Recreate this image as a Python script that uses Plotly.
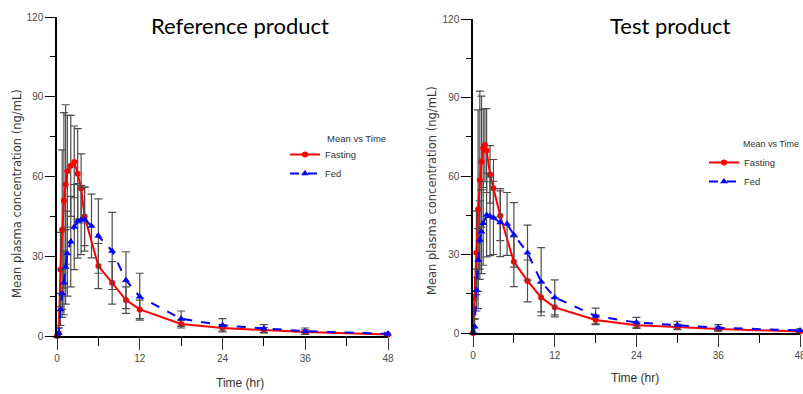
import plotly.graph_objects as go

# ---------------- data ----------------
ref_t_fasting = [0, 0.25, 0.5, 0.75, 1, 1.25, 1.5, 2, 2.5, 3, 3.5, 4, 6, 8, 10, 12, 18, 24, 30, 36, 48]
ref_fasting = [0, 1, 25, 40, 51, 57, 62, 64, 65.5, 61, 55.5, 45, 26.3, 20, 13.5, 10, 4.5, 3, 2.2, 1.5, 0.6]
ref_fasting_sd = [0, 2, 14, 30, 33, 30, 21, 19, 13.5, 17, 13, 11, 8.5, 8, 5, 3.5, 1.5, 1.2, 1, 0.8, 0.4]

ref_t_fed = [0, 0.25, 0.5, 0.75, 1, 1.25, 1.5, 2, 2.5, 3, 3.5, 4, 5, 6, 8, 10, 12, 18, 24, 30, 36, 48]
ref_fed = [0, 1, 10, 16, 20, 26, 31, 35.5, 41, 43.3, 43.6, 43.9, 41.4, 37.6, 32, 21, 14.8, 6.5, 4, 2.8, 1.8, 0.8]
ref_fed_sd = [0, 2, 6, 9, 12, 14, 16, 17, 16, 14, 13, 12, 12, 14, 14.5, 10.7, 8.8, 2.9, 2.5, 1.5, 1.2, 0.6]

test_t_fasting = [0, 0.25, 0.5, 0.75, 1, 1.25, 1.5, 1.75, 2, 2.5, 3, 4, 6, 8, 10, 12, 18, 24, 30, 36, 48]
test_fasting = [0, 13.3, 30.7, 47.3, 58.4, 65.5, 70.6, 71.8, 69.7, 60.6, 55.3, 44.8, 27.2, 19.9, 13.6, 9.8, 5, 3, 2.3, 1.5, 0.6]
test_fasting_sd = [0, 8, 16, 38, 34, 25, 15, 14, 16, 11, 11, 9.5, 9.5, 8, 5.5, 3.6, 1.8, 1.2, 1, 0.8, 0.4]

test_t_fed = [0, 0.25, 0.5, 0.75, 1, 1.25, 1.5, 2, 2.5, 3, 4, 5, 6, 8, 10, 12, 18, 24, 30, 36, 48]
test_fed = [0, 2.4, 16.4, 27.9, 35.5, 38.7, 41.9, 45.1, 44.6, 44, 42.2, 41.7, 37.5, 30.7, 19.6, 13.6, 6.5, 4, 3, 2, 1]
test_fed_sd = [0, 3, 8, 12, 15, 16, 16, 16, 15, 14, 13, 12, 12.3, 10.5, 13, 6.7, 3, 2, 1.5, 1.2, 0.6]

x_ticks = [0, 12, 24, 36, 48]
y_ticks = [0, 30, 60, 90, 120]

W, H = 803, 394

NARROW = "Liberation Sans Narrow, Arial Narrow, Liberation Sans, sans-serif"
TICKFONT = dict(family=NARROW, size=10, color="#4a4a4a")

fig = go.Figure()


def add_pair(tf, f, fsd, td, d, dsd, xa, ya, legend):
    fig.add_trace(go.Scatter(
        x=tf, y=f, name="Fasting", mode="lines+markers",
        line=dict(color="#ff0000", width=2),
        marker=dict(symbol="circle", size=6, color="#ff0000"),
        error_y=dict(type="data", array=fsd, color="#4d4d4d", thickness=1.2, width=4),
        xaxis=xa, yaxis=ya, legend=legend, showlegend=True, cliponaxis=False))
    fig.add_trace(go.Scatter(
        x=td, y=d, name="Fed", mode="lines+markers",
        line=dict(color="#0000ff", width=2, dash="dash"),
        marker=dict(symbol="triangle-up", size=7, color="#0000ff"),
        error_y=dict(type="data", array=dsd, color="#4d4d4d", thickness=1.2, width=4),
        xaxis=xa, yaxis=ya, legend=legend, showlegend=True, cliponaxis=False))


add_pair(ref_t_fasting, ref_fasting, ref_fasting_sd, ref_t_fed, ref_fed, ref_fed_sd, "x", "y", "legend")
add_pair(test_t_fasting, test_fasting, test_fasting_sd, test_t_fed, test_fed, test_fed_sd, "x2", "y2", "legend2")


def xaxis(dom, anchor):
    return dict(domain=dom, anchor=anchor, range=[0, 48], tickvals=x_ticks, ticktext=[str(v) for v in x_ticks],
                showgrid=False, zeroline=False, showline=True, linecolor="black", linewidth=1.5,
                ticks="outside", ticklen=12, tickcolor="#333", tickwidth=1, tickfont=TICKFONT,
                ticklabeloverflow="allow",
                minor=dict(dtick=6, ticks="outside", ticklen=8, tickcolor="black", showgrid=False),
                automargin=False, fixedrange=True)


def yaxis(dom, anchor):
    return dict(domain=dom, anchor=anchor, range=[0, 120], tickvals=y_ticks, ticktext=[str(v) for v in y_ticks],
                showgrid=False, zeroline=False, showline=True, linecolor="black", linewidth=1.5,
                ticks="outside", ticklen=10, tickcolor="black", tickwidth=1, tickfont=TICKFONT,
                ticklabeloverflow="allow",
                minor=dict(dtick=15, ticks="outside", ticklen=5, tickcolor="black", showgrid=False),
                automargin=False, fixedrange=True)


fig.update_layout(
    width=W, height=H,
    margin=dict(l=0, r=0, t=0, b=0, autoexpand=False),
    paper_bgcolor="white", plot_bgcolor="white",
    xaxis=xaxis([57 / W, 388 / W], "y"),
    yaxis=yaxis([(H - 336) / H, (H - 17) / H], "x"),
    xaxis2=xaxis([473 / W, 800 / W], "y2"),
    yaxis2=yaxis([(H - 333) / H, (H - 19) / H], "x2"),
    legend=dict(x=285 / W, y=1 - 140 / H, xanchor="left", yanchor="top", bgcolor="rgba(0,0,0,0)",
                font=dict(family=NARROW, size=9.5, color="#333"), tracegroupgap=0),
    legend2=dict(x=704 / W, y=1 - 148 / H, xanchor="left", yanchor="top", bgcolor="rgba(0,0,0,0)",
                 font=dict(family=NARROW, size=9.5, color="#333"), tracegroupgap=0),
    showlegend=True,
)

annots = [
    dict(text="Reference product", x=240 / W, y=1 - 25 / H, font=dict(family="Lato, sans-serif", size=22, color="black")),
    dict(text="Test product", x=670 / W, y=1 - 25 / H, font=dict(family="Lato, sans-serif", size=22, color="black")),
    dict(text="Mean plasma concentration (ng/mL)", x=17 / W, y=1 - 194 / H, textangle=-90,
         font=dict(family="DejaVu Sans, sans-serif", size=11.5, color="#3a3a3a")),
    dict(text="Mean plasma concentration (ng/mL)", x=432 / W, y=1 - 191 / H, textangle=-90,
         font=dict(family="DejaVu Sans, sans-serif", size=11.5, color="#3a3a3a")),
    dict(text="Time (hr)", x=240 / W, y=1 - 383 / H, font=dict(family=NARROW, size=12, color="#333")),
    dict(text="Time (hr)", x=635 / W, y=1 - 378 / H, font=dict(family=NARROW, size=12, color="#333")),
    dict(text="Mean vs Time", x=325 / W, y=1 - 138 / H, xanchor="left", font=dict(family=NARROW, size=9.5, color="#333")),
    dict(text="Mean vs Time", x=741 / W, y=1 - 144 / H, xanchor="left", font=dict(family=NARROW, size=9, color="#333")),
]
for a in annots:
    a.setdefault("xanchor", "center")
    a.update(xref="paper", yref="paper", yanchor="middle", showarrow=False)
fig.update_layout(annotations=annots)

fig.write_html("out.html", config={"displayModeBar": False},
               post_script="document.body.style.margin='0';document.body.style.overflow='hidden';")
